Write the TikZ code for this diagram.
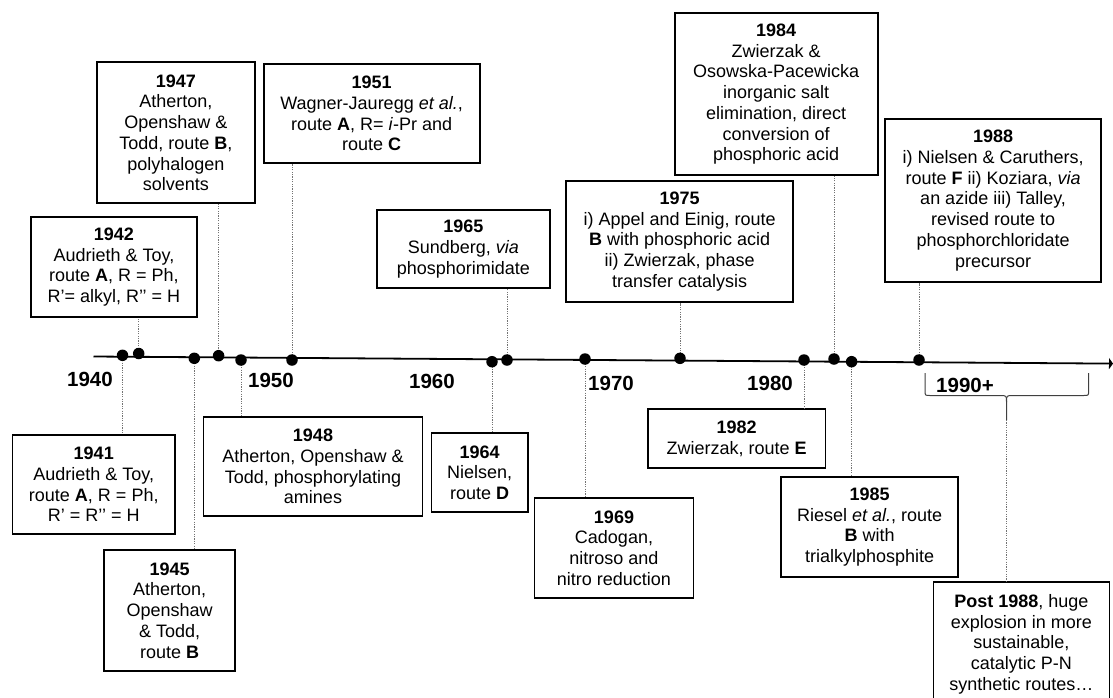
\documentclass[tikz,border=0pt]{standalone}
\usepackage{fontspec}
\setmainfont{Liberation Sans}
\usetikzlibrary{arrows.meta}
\begin{document}
\begin{tikzpicture}[x=1pt,y=-1pt,
  evbox/.style={draw, line width=1.8pt, align=center, inner sep=0pt, fill=white,
    font=\fontsize{18}{20.7}\selectfont},
  yearlab/.style={font=\fontsize{20.5}{24}\selectfont\bfseries, inner sep=0pt},
  evdot/.style={circle, fill=black, inner sep=0pt, minimum size=11.5pt},
  tick/.style={draw=black!55, line width=0.7pt, dash pattern=on 1.2pt off 1.2pt},
  axis/.style={line width=1.8pt, -{Triangle[length=4pt,width=11pt]}},
  bracestyle/.style={draw=black!75, line width=1pt, line join=round}]
\clip (0,0) rectangle (1113,697);
\fill[white] (0,0) rectangle (1113,697);

% dot positions
\coordinate (d1941) at (122.5,355.3);
\coordinate (d1942) at (138.7,353.5);
\coordinate (d1945) at (194.3,358.3);
\coordinate (d1947) at (218.6,355.7);
\coordinate (d1948) at (241,360);
\coordinate (d1951) at (292,360);
\coordinate (d1964) at (492,361.7);
\coordinate (d1965) at (507,360);
\coordinate (d1969) at (585,359);
\coordinate (d1975) at (680,358.3);
\coordinate (d1982) at (804,360);
\coordinate (d1984) at (834,359);
\coordinate (d1985) at (851.6,361.7);
\coordinate (d1988) at (919,360);
\coordinate (axstart) at (93.5,356.5);
\coordinate (axend) at (1113,363.6);

% boxes above
\node[evbox, minimum width=157.5pt, minimum height=141pt] (b1947) at (175.9,132.8)
  {\textbf{1947}\\Atherton,\\Openshaw \&\\Todd, route \textbf{B},\\polyhalogen\\solvents};
\node[evbox, minimum width=216pt, minimum height=99.3pt] (b1951) at (371.6,113.7)
  {\textbf{1951}\\Wagner-Jauregg \textit{et al.},\\route \textbf{A}, R= \textit{i}-Pr and\\route \textbf{C}};
\node[evbox, minimum width=165.8pt, minimum height=99.4pt] (b1942) at (113.9,267)
  {\textbf{1942}\\Audrieth \& Toy,\\route \textbf{A}, R = Ph,\\R’= alkyl, R’’ = H};
\node[evbox, minimum width=173.2pt, minimum height=78.3pt] (b1965) at (463.4,249.2)
  {\textbf{1965}\\Sundberg, \textit{via}\\phosphorimidate};
\node[evbox, minimum width=203.2pt, minimum height=161.7pt] (b1984) at (776.2,94.2)
  {\textbf{1984}\\Zwierzak \&\\Osowska-Pacewicka\\inorganic salt\\elimination, direct\\conversion of\\phosphoric acid};
\node[evbox, minimum width=226.8pt, minimum height=120.7pt] (b1975) at (679.6,241.4)
  {\textbf{1975}\\i) Appel and Einig, route\\\textbf{B} with phosphoric acid\\ii) Zwierzak, phase\\transfer catalysis};
\node[evbox, minimum width=216.2pt, minimum height=162.4pt] (b1988) at (993.1,200.5)
  {\textbf{1988}\\i) Nielsen \& Caruthers,\\route \textbf{F} ii) Koziara, \textit{via}\\an azide iii) Talley,\\revised route to\\phosphorchloridate\\precursor};

% boxes below
\node[evbox, minimum width=162.5pt, minimum height=99pt] (b1941) at (93.75,484.5)
  {\textbf{1941}\\Audrieth \& Toy,\\route \textbf{A}, R = Ph,\\R’ = R’’ = H};
\node[evbox, minimum width=130.7pt, minimum height=120.7pt] (b1945) at (169.7,610.4)
  {\textbf{1945}\\Atherton,\\Openshaw\\\& Todd,\\route \textbf{B}};
\node[evbox, minimum width=218.9pt, minimum height=98.7pt] (b1948) at (313,466.7)
  {\textbf{1948}\\Atherton, Openshaw \&\\Todd, phosphorylating\\amines};
\node[evbox, minimum width=96.5pt, minimum height=78.4pt] (b1964) at (479.7,472.5)
  {\textbf{1964}\\Nielsen,\\route \textbf{D}};
\node[evbox, minimum width=177.7pt, minimum height=59pt] (b1982) at (736.7,438.8)
  {\textbf{1982}\\Zwierzak, route \textbf{E}};
\node[evbox, minimum width=159.1pt, minimum height=100.6pt] (b1969) at (614,548)
  {\textbf{1969}\\Cadogan,\\nitroso and\\nitro reduction};
\node[evbox, minimum width=177.3pt, minimum height=99.4pt] (b1985) at (869.7,527)
  {\textbf{1985}\\Riesel \textit{et al.}, route\\\textbf{B} with\\trialkylphosphite};
\node[evbox, minimum width=176pt, minimum height=123.8pt] (post) at (1021.4,644.2)
  {\textbf{Post 1988}, huge\\explosion in more\\sustainable,\\catalytic P-N\\synthetic routes…};

% connectors
\foreach \y in {1942,1947,1951,1965,1975,1984,1988}
  \draw[tick] (d\y) -- (d\y |- b\y.south);
\foreach \y in {1941,1945,1948,1964,1969,1982,1985}
  \draw[tick] (d\y) -- (d\y |- b\y.north);

% brace for 1990+
\coordinate (brL) at (925,373);
\coordinate (brR) at (1088.6,373);
\coordinate (brtip) at (1006.5,420);
\draw[bracestyle] (brL) -- (925,390.5) .. controls (925,395.5) .. (930,395.5)
  -- (1000,395.5) .. controls (1006.5,395.5) .. (1006.5,402) -- (brtip);
\draw[bracestyle] (brR) -- (1088.6,390.5) .. controls (1088.6,395.5) .. (1083.6,395.5)
  -- (1013,395.5) .. controls (1006.5,395.5) .. (1006.5,402);
\draw[tick] (brtip) -- (brtip |- post.north);

% axis
\draw[axis] (axstart) -- (axend);
\foreach \y in {1941,1942,1945,1947,1948,1951,1964,1965,1969,1975,1982,1984,1985,1988}
  \node[evdot] (n\y) at (d\y) {};

% year labels
\node[yearlab] (y1940) at (90,379.5) {1940};
\node[yearlab] (y1950) at (271,380.5) {1950};
\node[yearlab] (y1960) at (432,381) {1960};
\node[yearlab] (y1970) at (611,383.5) {1970};
\node[yearlab] (y1980) at (770,383.5) {1980};
\node[yearlab] (y1990) at (965,385) {1990+};
\end{tikzpicture}
\end{document}
